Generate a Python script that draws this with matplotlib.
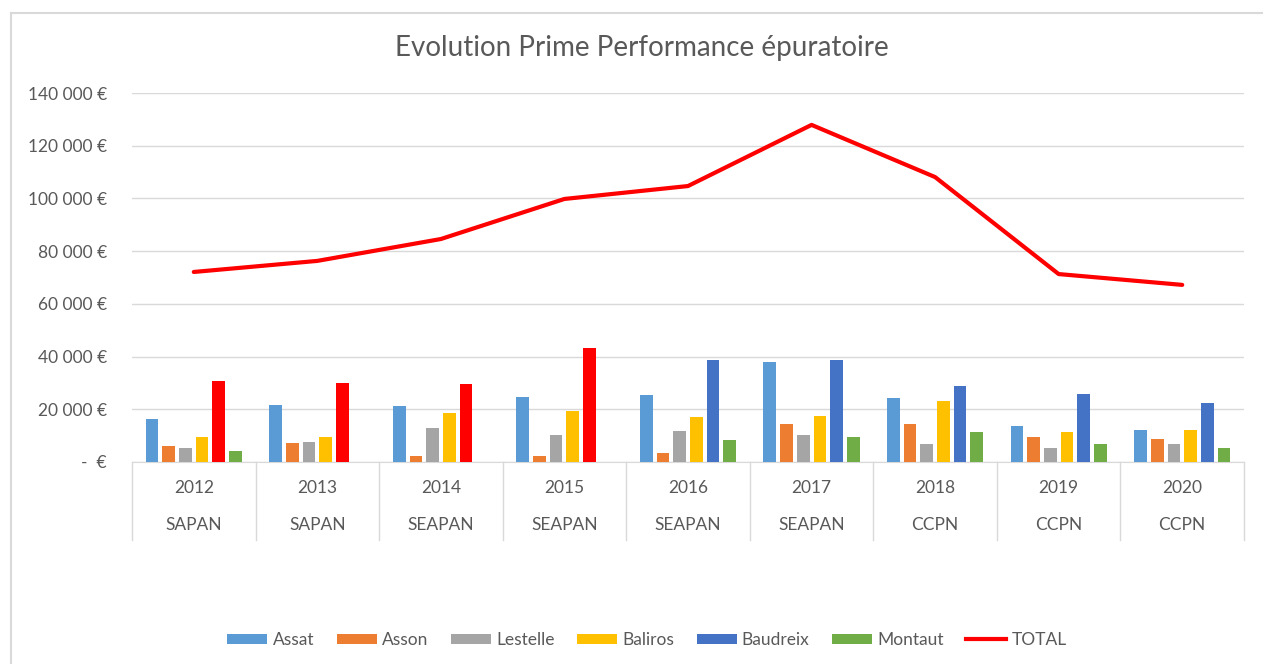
import numpy as np
import matplotlib
matplotlib.use("Agg")
import matplotlib.pyplot as plt
from matplotlib.lines import Line2D
from matplotlib.patches import Patch

plt.rcParams["font.family"] = ["Lato", "DejaVu Sans"]

# data (euros)
years = ["2012", "2013", "2014", "2015", "2016", "2017", "2018", "2019", "2020"]
operators = ["SAPAN", "SAPAN", "SEAPAN", "SEAPAN", "SEAPAN", "SEAPAN", "CCPN", "CCPN", "CCPN"]
assat = [16500, 21700, 21300, 24500, 25400, 37800, 24100, 13700, 12200]
asson = [6100, 7200, 2400, 2400, 3600, 14500, 14500, 9300, 8900]
lestelle = [5300, 7700, 13000, 10400, 11800, 10400, 6900, 5300, 6900]
baliros = [9650, 9650, 18500, 19300, 17000, 17400, 23000, 11200, 12200]
baudreix = [30600, 29800, 29500, 43200, 38700, 38700, 29000, 25800, 22200]
montaut = [4100, 0, 0, 0, 8500, 9650, 11200, 6900, 5300]
total = [72100, 76300, 84600, 99800, 104700, 127900, 108100, 71300, 67200]

series = [
    ("Assat", assat, "#5B9BD5"),
    ("Asson", asson, "#ED7D31"),
    ("Lestelle", lestelle, "#A5A5A5"),
    ("Baliros", baliros, "#FFC000"),
    ("Baudreix", baudreix, "#4472C4"),
    ("Montaut", montaut, "#70AD47"),
]
red = "#FF0000"
text_gray = "#595959"
grid_gray = "#D9D9D9"

W, H = 1263, 664
fig = plt.figure(figsize=(W / 100, H / 100), dpi=100)
ax = fig.add_axes([132 / W, 202 / H, (1244 - 132) / W, (462 - 93) / H])

x = np.arange(len(years))
pitch = 0.135
width = 0.103
for i, (name, vals, color) in enumerate(series):
    colors = [color] * len(vals)
    if name == "Baudreix":
        # first four years highlighted in red in the original
        colors = [red] * 4 + [color] * (len(vals) - 4)
    ax.bar(x + (i - 2.5) * pitch, vals, width, color=colors, zorder=3)

ax.plot(x, total, color=red, linewidth=3, zorder=4, solid_capstyle="round")

ax.set_xlim(-0.5, len(years) - 0.5)
ax.set_ylim(0, 140000)
ax.set_yticks(range(0, 140001, 20000))
ax.set_yticklabels(["-  €"] + [f"{v // 1000} 000 €" for v in range(20000, 140001, 20000)])
ax.tick_params(axis="y", length=0, pad=18, labelsize=12.5, labelcolor=text_gray)
ax.set_xticks([])
ax.grid(axis="y", color=grid_gray, linewidth=1, zorder=0)
for s in ["top", "right", "left"]:
    ax.spines[s].set_visible(False)
ax.spines["bottom"].set_color(grid_gray)

# two-level category axis
sep_bottom = (664 - 540) / H
ax_bottom = 202 / H
for k in range(len(years) + 1):
    xf = (132 + k * (1244 - 132) / len(years)) / W
    fig.add_artist(Line2D([xf, xf], [sep_bottom, ax_bottom], color=grid_gray, linewidth=1))
for k in range(len(years)):
    xf = (132 + (k + 0.5) * (1244 - 132) / len(years)) / W
    fig.text(xf, (664 - 488) / H, years[k], ha="center", va="center", fontsize=12.5, color=text_gray)
    fig.text(xf, (664 - 525) / H, operators[k], ha="center", va="center", fontsize=12.5, color=text_gray)

# title
fig.text(642 / W, (664 - 48) / H, "Evolution Prime Performance épuratoire",
         ha="center", va="center", fontsize=20, color=text_gray)

# outer frame
fig.add_artist(Line2D([11 / W, 1.0], [1 - 13 / H, 1 - 13 / H], color=grid_gray, linewidth=1.5))
fig.add_artist(Line2D([11 / W, 11 / W], [0, 1 - 13 / H], color=grid_gray, linewidth=1.5))

handles = [Patch(facecolor=c, label=n) for n, _, c in series]
handles.append(Line2D([], [], color=red, linewidth=3, label="TOTAL"))
fig.legend(handles=handles, loc="center", bbox_to_anchor=(647 / W, (664 - 640) / H), ncol=7,
           frameon=False, fontsize=12.5, labelcolor=text_gray, handlelength=2.3, handleheight=0.55,
           handletextpad=0.3, columnspacing=1.3)

fig.savefig("out.png", dpi=100)
